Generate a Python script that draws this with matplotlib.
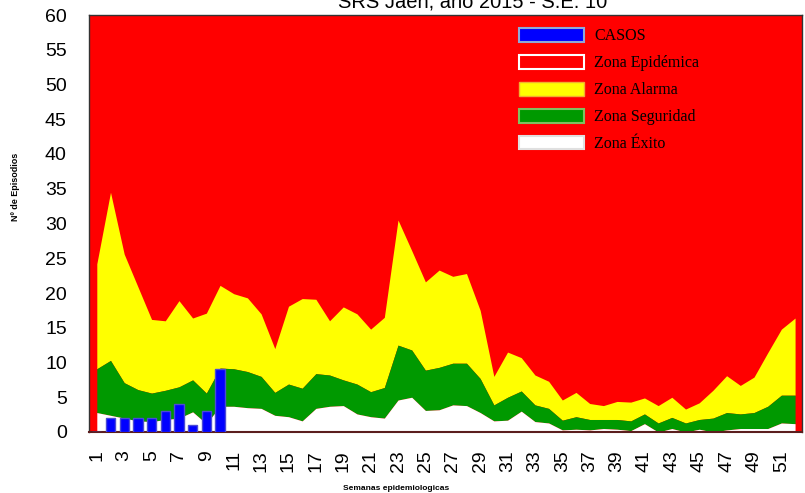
import matplotlib.pyplot as plt
from matplotlib.patches import Patch

# umbrales por semana epidemiologica (1..52)
semanas = list(range(1, 53))
exito = [2.8, 2.4, 2.0, 1.6, 1.5, 1.8, 2.0, 2.9, 1.2, 3.7,
         3.7, 3.5, 3.4, 2.4, 2.2, 1.6, 3.4, 3.7, 3.8, 2.6,
         2.2, 2.0, 4.6, 5.0, 3.1, 3.2, 3.9, 3.8, 2.8, 1.6,
         1.7, 3.0, 1.5, 1.3, 0.3, 0.4, 0.3, 0.5, 0.4, 0.2,
         1.2, 0.0, 0.5, 0.0, 0.4, 0.0, 0.3, 0.5, 0.5, 0.5, 1.3, 1.2]
seguridad = [9.1, 10.3, 7.1, 6.1, 5.6, 6.0, 6.5, 7.5, 5.6, 9.2,
             9.1, 8.7, 8.0, 5.7, 6.9, 6.3, 8.4, 8.2, 7.5, 6.9,
             5.8, 6.4, 12.5, 11.8, 8.9, 9.3, 9.9, 9.9, 7.7, 3.9,
             5.0, 5.9, 3.9, 3.4, 1.7, 2.2, 1.8, 1.8, 1.8, 1.6,
             2.6, 1.3, 2.1, 1.3, 1.8, 2.0, 2.8, 2.6, 2.8, 3.7, 5.3, 5.3]
alarma = [24.2, 34.5, 25.6, 20.9, 16.2, 16.0, 18.9, 16.4, 17.1, 21.1,
          19.9, 19.3, 17.0, 12.0, 18.1, 19.2, 19.1, 16.0, 18.0, 17.0,
          14.8, 16.5, 30.5, 26.1, 21.6, 23.3, 22.4, 22.8, 17.5, 8.0,
          11.5, 10.7, 8.2, 7.3, 4.6, 5.7, 4.1, 3.8, 4.4, 4.3,
          4.9, 3.8, 5.0, 3.3, 4.2, 6.0, 8.1, 6.7, 7.9, 11.4, 14.8, 16.4]

# casos hasta la S.E. 10
semanas_casos = list(range(1, 11))
casos = [0, 2, 2, 2, 2, 3, 4, 1, 3, 9]

tick_semanas = list(range(1, 52, 2))

rojo = '#ff0000'
amarillo = '#ffff00'
verde = '#009900'
azul = '#0000ff'

fig = plt.figure(figsize=(8.05, 4.93), dpi=100)
ax = fig.add_axes([89 / 805, 1 - 432 / 493, (801.5 - 89) / 805, (432 - 15) / 493])
ax.set_facecolor(rojo)

ax.fill_between(semanas, alarma, 60, color=rojo, lw=0)
ax.fill_between(semanas, seguridad, alarma, color=amarillo, lw=0)
ax.fill_between(semanas, exito, seguridad, color=verde, lw=0)
ax.fill_between(semanas, 0, exito, color='white', lw=0)
ax.bar(semanas_casos, casos, width=0.68, color=azul, edgecolor='#4a4ad6',
       linewidth=1, zorder=3)

ax.set_xlim(0.43, 52.47)
ax.set_ylim(0, 60)
ax.set_yticks(range(0, 61, 5))
ax.set_xticks(tick_semanas)
ax.set_xticklabels([str(s) for s in tick_semanas], rotation=90)
ax.tick_params(axis='y', length=0, pad=16, labelsize=14)
ax.tick_params(axis='x', length=0, pad=13, labelsize=14)
for lab in ax.get_xticklabels() + ax.get_yticklabels():
    lab.set_family('Liberation Sans')

for s in ['top', 'right', 'left']:
    ax.spines[s].set_color('#333333')
    ax.spines[s].set_linewidth(1)
ax.spines['bottom'].set_color('#5b1e1e')
ax.spines['bottom'].set_linewidth(1.5)

handles = [
    Patch(facecolor=azul, edgecolor='#8fa8d8', linewidth=1.5, label='CASOS'),
    Patch(facecolor=rojo, edgecolor='white', linewidth=1.5, label='Zona Epidémica'),
    Patch(facecolor=amarillo, edgecolor='#f0b030', linewidth=1, label='Zona Alarma'),
    Patch(facecolor=verde, edgecolor='#80c060', linewidth=1.5, label='Zona Seguridad'),
    Patch(facecolor='white', edgecolor='#e0e0e0', linewidth=1.5, label='Zona Éxito'),
]
ax.legend(handles=handles, loc='upper left', bbox_to_anchor=(511 / 805, 1 - 20 / 493),
          bbox_transform=fig.transFigure, frameon=False, borderpad=0,
          prop={'family': 'Liberation Serif', 'size': 11.5},
          handlelength=4.1, handleheight=0.95, labelspacing=0.66, handletextpad=0.6)

fig.text(473 / 805, 1 - 8 / 493, 'SRS Jaén, año 2015 - S.E. 10', ha='center',
         va='baseline', fontsize=14.5, family='Liberation Sans')
fig.text(15.7 / 805, 1 - 186.5 / 493, 'Nº de Episodios', rotation=90, ha='center',
         va='center', fontsize=6.5, fontweight='bold', family='Liberation Sans')
fig.text(396 / 805, 1 - 488 / 493, 'Semanas epidemiologicas', ha='center',
         va='center', fontsize=6, fontweight='bold', family='Liberation Sans')

fig.savefig('out.png', dpi=100)
